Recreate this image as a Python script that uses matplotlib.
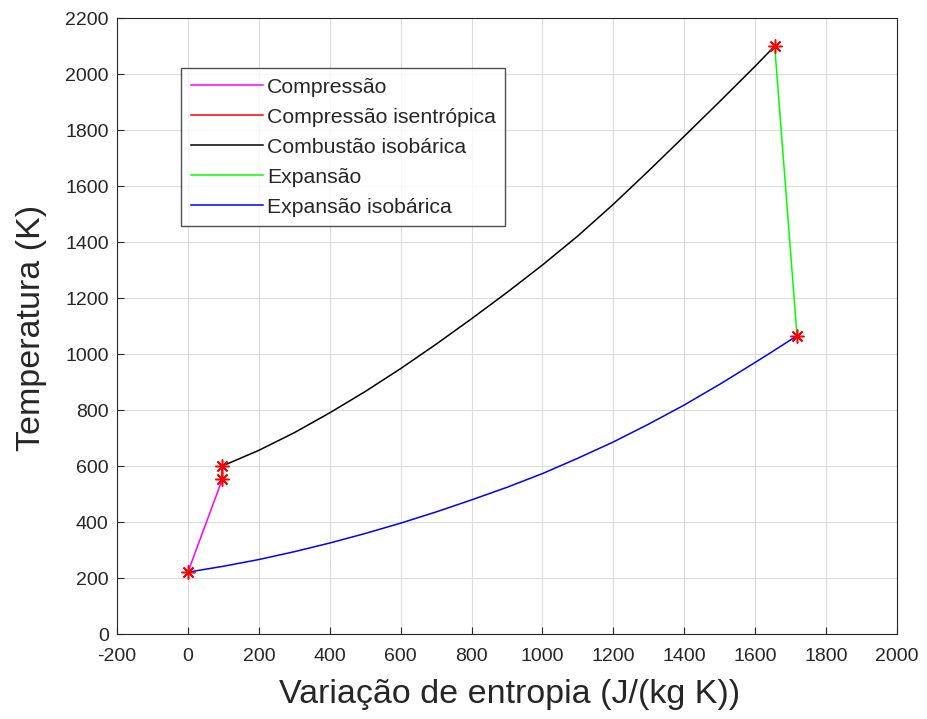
import matplotlib
matplotlib.use("Agg")
import matplotlib.pyplot as plt

# state points (entropy change J/(kg K), temperature K)
s_pts = [0, 97, 97, 1655, 1718]
T_pts = [221, 553, 600, 2100, 1065]

# compression 1 -> 2
s_comp = [0, 97]
T_comp = [221, 553]

# isentropic compression 2 -> 3
s_isen = [97, 97]
T_isen = [553, 600]

# isobaric combustion 3 -> 4
s_comb = [97, 200, 300, 400, 500, 600, 700, 800, 900, 1000, 1100, 1200,
          1300, 1400, 1500, 1600, 1655]
T_comb = [600, 656, 719, 790, 866, 948, 1035, 1126, 1220, 1318, 1422, 1535,
          1655, 1778, 1902, 2028, 2100]

# expansion 4 -> 5
s_exp = [1655, 1718]
T_exp = [2100, 1065]

# isobaric expansion 5 -> 1
s_rej = [1718, 1650, 1600, 1500, 1400, 1300, 1200, 1100, 1000, 900, 800, 700,
         600, 500, 400, 300, 200, 100, 0]
T_rej = [1065, 1010, 970, 892, 818, 750, 686, 628, 573, 524, 479, 436,
         396, 359, 325, 294, 266, 242, 221]

labels = ["Compressão", "Compressão isentrópica", "Combustão isobárica",
          "Expansão", "Expansão isobárica"]
colors = ["#ff00ff", "#ff0000", "#000000", "#00ff00", "#0000ff"]

xticks = list(range(-200, 2001, 200))
yticks = list(range(0, 2201, 200))

plt.rcParams["font.family"] = ["Liberation Sans", "DejaVu Sans"]
plt.rcParams["axes.unicode_minus"] = False

fig = plt.figure(figsize=(9.28, 7.19), dpi=100)
ax = fig.add_axes([0.1261, 0.1182, 0.8405, 0.8567])

series = [(s_comp, T_comp), (s_isen, T_isen), (s_comb, T_comb),
          (s_exp, T_exp), (s_rej, T_rej)]
for (s, T), c, lab in zip(series, colors, labels):
    ax.plot(s, T, color=c, lw=1.1, label=lab)

ax.plot(s_pts, T_pts, ls="none", marker=(8, 2, 0), color="red",
        markersize=10, markeredgewidth=1.1)

ax.set_xlim(-200, 2000)
ax.set_ylim(0, 2200)
ax.set_xticks(xticks)
ax.set_yticks(yticks)
ax.grid(True, color="#dcdcdc", lw=0.8)
ax.set_axisbelow(True)
ax.tick_params(direction="in", length=5, width=0.8, colors="#262626",
               labelsize=14)
ax.tick_params(axis="x", pad=10)
ax.tick_params(axis="y", pad=6)
for sp in ax.spines.values():
    sp.set_color("#262626")
    sp.set_linewidth(0.8)

ax.set_xlabel("Variação de entropia (J/(kg K))", fontsize=24.5, color="#262626")
ax.set_ylabel("Temperatura (K)", fontsize=24.5, color="#262626")
ax.xaxis.set_label_coords(0.503, -0.073)
ax.yaxis.set_label_coords(-0.09, 0.497)

leg = ax.legend(loc="upper left", bbox_to_anchor=(0.082, 0.919),
                borderaxespad=0, fancybox=False, fontsize=15.3,
                handlelength=3.4, handletextpad=0.2, labelspacing=0.52,
                borderpad=0.45)
leg.get_frame().set_edgecolor("#262626")
leg.get_frame().set_linewidth(1.0)
for t in leg.get_texts():
    t.set_color("#262626")

fig.savefig("out.png", dpi=100)
